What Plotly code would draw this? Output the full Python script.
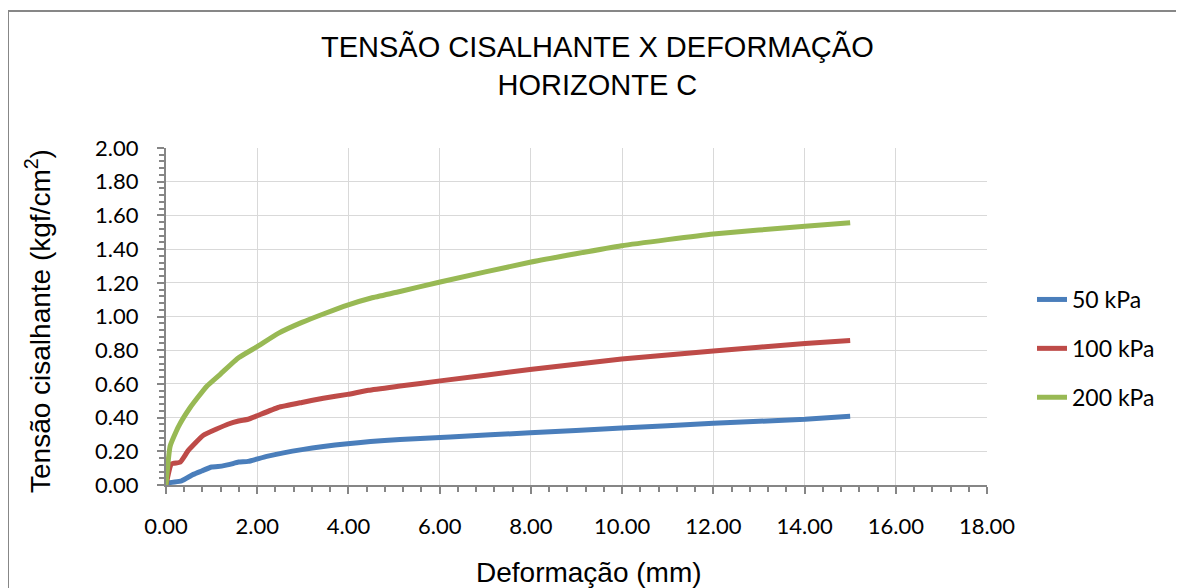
import plotly.graph_objects as go

# Data
x_50 = [0.0, 0.05, 0.34, 0.6, 0.78, 1.0, 1.22, 1.4, 1.59, 1.8, 2.21, 2.98, 3.98, 5.13, 6.23, 7.98, 9.99, 12.0, 14.01, 15.0]
y_50 = [0.0, 0.012, 0.025, 0.063, 0.083, 0.107, 0.112, 0.122, 0.136, 0.14, 0.17, 0.21, 0.245, 0.27, 0.285, 0.31, 0.338, 0.366, 0.39, 0.408]

x_100 = [0.0, 0.12, 0.31, 0.49, 0.82, 1.37, 1.59, 1.8, 1.99, 2.46, 2.98, 3.45, 3.98, 4.44, 5.13, 6.01, 7.98, 9.99, 12.0, 14.01, 15.0]
y_100 = [0.0, 0.125, 0.135, 0.205, 0.295, 0.362, 0.38, 0.39, 0.41, 0.46, 0.49, 0.515, 0.538, 0.562, 0.587, 0.618, 0.685, 0.748, 0.795, 0.84, 0.858]

x_200 = [0.0, 0.09, 0.27, 0.53, 0.89, 1.2, 1.59, 1.99, 2.46, 2.98, 3.45, 3.98, 4.5, 5.13, 6.01, 7.98, 9.99, 12.0, 14.01, 15.0]
y_200 = [0.0, 0.23, 0.345, 0.46, 0.585, 0.66, 0.755, 0.82, 0.9, 0.965, 1.015, 1.068, 1.11, 1.148, 1.205, 1.322, 1.42, 1.49, 1.535, 1.557]

series_names = ["50 kPa", "100 kPa", "200 kPa"]
colors = ["#4A7EBB", "#BE4B48", "#98B954"]

fig = go.Figure()
for i, (xs, ys) in enumerate([(x_50, y_50), (x_100, y_100), (x_200, y_200)]):
    fig.add_trace(go.Scatter(
        x=xs, y=ys, mode="lines", name=series_names[i],
        line=dict(color=colors[i], width=5, shape="spline", smoothing=0.4),
        legendgroup=series_names[i],
    ))

tick_font = dict(family="Lato, Carlito, Open Sans, sans-serif", size=22, color="#000000")
axis_common = dict(
    showline=True, linecolor="#868686", linewidth=2,
    gridcolor="#D9D9D9", gridwidth=1,
    ticks="outside", ticklen=7, tickwidth=2, tickcolor="#868686",
    tickformat=".2f", tickfont=tick_font, zeroline=False,
    ticklabelstandoff=14,
)

fig.update_xaxes(range=[0, 18], dtick=2, tick0=0,
                 minor=dict(dtick=0.4, ticks="outside", ticklen=5, tickwidth=2, tickcolor="#868686", showgrid=False),
                 **axis_common)
fig.update_yaxes(range=[0, 2], dtick=0.2, tick0=0,
                 minor=dict(dtick=0.04, ticks="outside", ticklen=5, tickwidth=2, tickcolor="#868686", showgrid=False),
                 **axis_common)

# page is offset by the 8px body margin: plot area at page x 166..987, y 148..485
fig.update_layout(
    width=1176, height=580,
    margin=dict(l=158, r=197, t=140, b=103),
    paper_bgcolor="white", plot_bgcolor="white",
    legend=dict(x=(1032 - 166) / 821, y=(485 - 278) / 337, xanchor="left", yanchor="top",
                font=dict(family="Lato, Carlito, Open Sans, sans-serif", size=23, color="#000000"),
                tracegroupgap=16, traceorder="grouped", bgcolor="rgba(0,0,0,0)"),
    showlegend=True,
)

title_font = dict(family="Liberation Sans, Arial, sans-serif", size=29, color="#000000")
fig.add_annotation(text="TENSÃO CISALHANTE X DEFORMAÇÃO<br>HORIZONTE C", xref="paper", yref="paper",
                   x=(597 - 166) / 821, y=(485 - 65) / 337, xanchor="center", yanchor="middle",
                   showarrow=False, font=title_font, align="center")

# axis titles
fig.add_annotation(text="Deformação (mm)", xref="paper", yref="paper",
                   x=(589 - 166) / 821, y=(485 - 572) / 337, xanchor="center", yanchor="middle", showarrow=False,
                   font=dict(family="Liberation Sans, Arial, sans-serif", size=28, color="#000000"))
fig.add_annotation(text="Tensão cisalhante (kgf/cm<sup>2</sup>)", xref="paper", yref="paper",
                   x=(38 - 166) / 821, y=(485 - 321) / 337, xanchor="center", yanchor="middle", textangle=-90, showarrow=False,
                   font=dict(family="Liberation Sans, Arial, sans-serif", size=28, color="#000000"))

# chart-area border (outer frame, partially visible)
bx = (8 - 166) / 821
by = (485 - 11) / 337
fig.add_shape(type="line", xref="paper", yref="paper",
              x0=bx, x1=1.3, y0=by, y1=by, line=dict(color="#878787", width=2))
fig.add_shape(type="line", xref="paper", yref="paper",
              x0=bx, x1=bx, y0=by, y1=-0.4, line=dict(color="#878787", width=2))

fig.write_html("out.html")
